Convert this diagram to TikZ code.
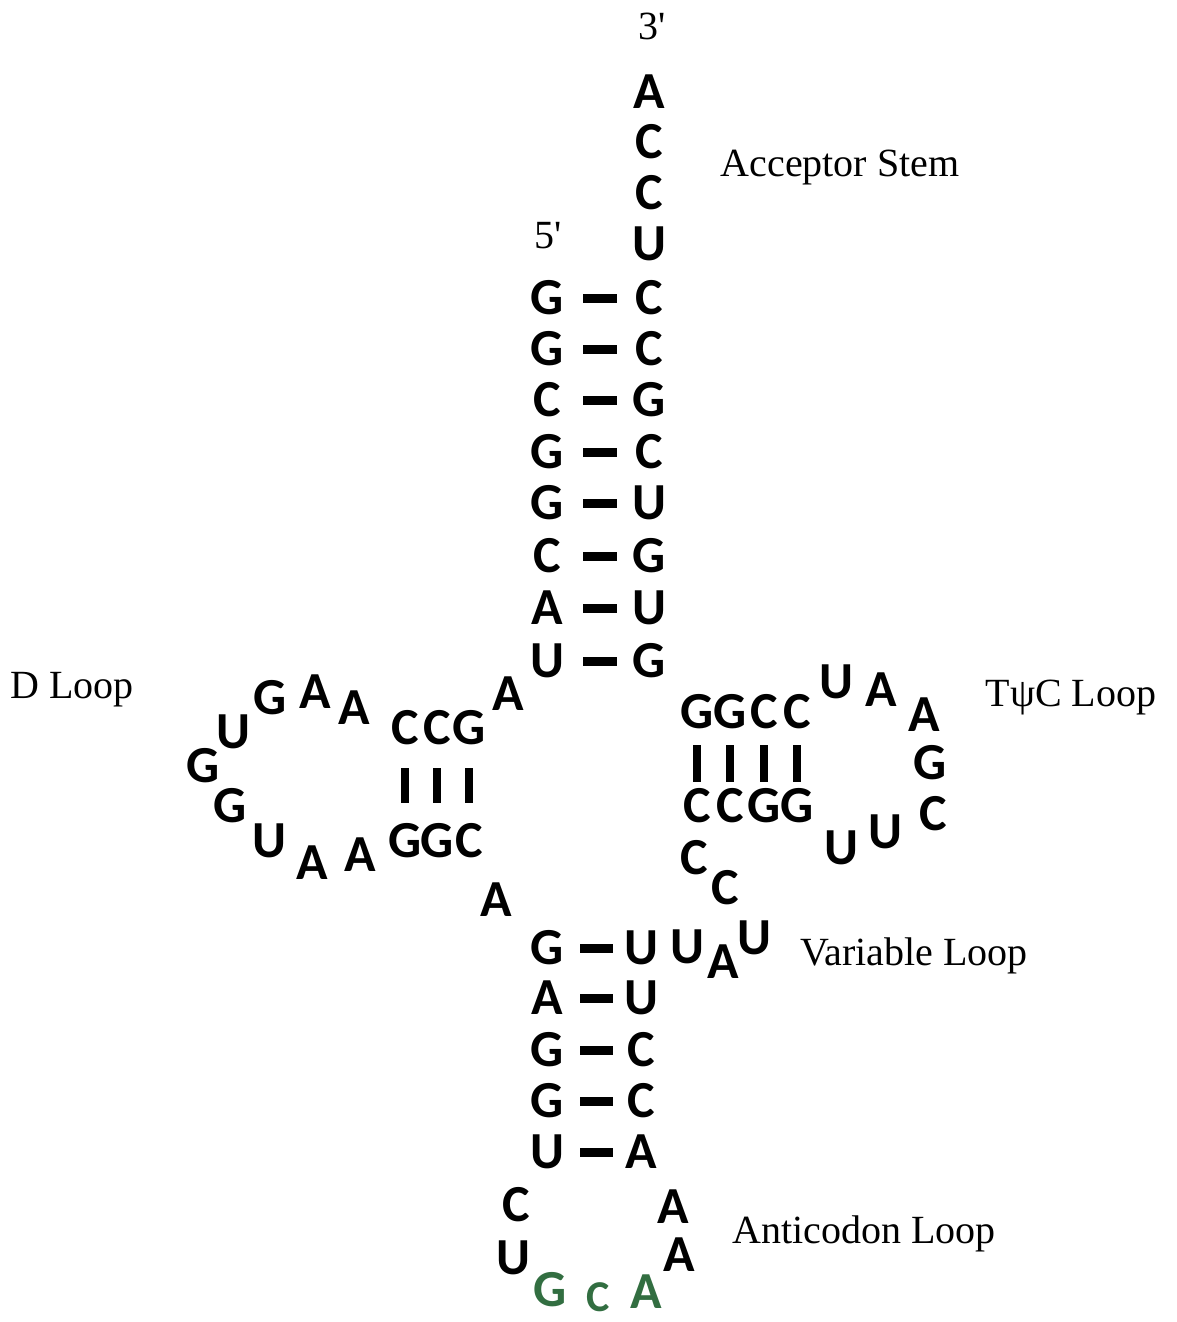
\documentclass[tikz,border=0pt]{standalone}
\usepackage{fontspec}
\setmainfont{Liberation Serif}
\newfontfamily\ntfam{Carlito}
\newcommand\ntfont{\ntfam\bfseries\fontsize{52}{52}\selectfont}
\newcommand\ntsmall{\ntfam\bfseries\fontsize{44}{44}\selectfont}
\newcommand\lblfont{\rmfamily\fontsize{40}{40}\selectfont}
\definecolor{acgreen}{RGB}{50,110,65}
\tikzset{
  nt/.style={font=\ntfont, inner sep=0pt, anchor=center, text=black},
  gn/.style={nt, text=acgreen},
  lbl/.style={font=\lblfont, inner sep=0pt, anchor=base},
  bpa/.style={line width=9pt, shorten <=36pt, shorten >=32pt},
  bpb/.style={line width=9pt, shorten <=33pt, shorten >=28pt},
  bpd/.style={line width=8.5pt, shorten <=40pt, shorten >=38pt},
  bpt/.style={line width=8.5pt, shorten <=33pt, shorten >=24pt},
}
\begin{document}
\begin{tikzpicture}[x=1pt,y=-1pt]
\useasboundingbox (0,0) rectangle (1177,1322);
% labels
\node[lbl] (l3) at (652,40) {3\textquotesingle};
\node[lbl] (l5) at (548,248) {5\textquotesingle};
\node[lbl] (lacc) at (840,176) {Acceptor Stem};
\node[lbl] (ld) at (72,698) {D Loop};
\node[lbl] (lt) at (1071,706) {T\char"03C8 C Loop};
\node[lbl] (lv) at (914,965) {Variable Loop};
\node[lbl] (lac) at (864,1243) {Anticodon Loop};
% acceptor tail
\node[nt] (t1) at (649,92) {A};
\node[nt] (t2) at (649,142) {C};
\node[nt] (t3) at (649,193) {C};
\node[nt] (t4) at (649,244) {U};
% acceptor stem
\foreach \i/\y/\l/\r in {1/298/G/C,2/349/G/C,3/400/C/G,4/452/G/C,5/503/G/U,6/556/C/G,7/608/A/U,8/661/U/G}{
  \node[nt] (al\i) at (547,\y) {\l};
  \node[nt] (ar\i) at (649,\y) {\r};
  \draw[bpa] (al\i.center) -- (ar\i.center);
}
% D arm
\node[nt] (dA) at (508,694) {A};
\node[nt] (dc1) at (405,728) {C};
\node[nt] (dc2) at (437,728) {C};
\node[nt] (dc3) at (469,728) {G};
\node[nt] (dg1) at (405,841) {G};
\node[nt] (dg2) at (437,841) {G};
\node[nt] (dg3) at (469,841) {C};
\draw[bpd] (dc1.center) -- (dg1.center);
\draw[bpd] (dc2.center) -- (dg2.center);
\draw[bpd] (dc3.center) -- (dg3.center);
% D loop
\node[nt] (dl1) at (360,855) {A};
\node[nt] (dl2) at (312,863) {A};
\node[nt] (dl3) at (269,841) {U};
\node[nt] (dl4) at (230,806) {G};
\node[nt] (dl5) at (203,766) {G};
\node[nt] (dl6) at (233,732) {U};
\node[nt] (dl7) at (270,698) {G};
\node[nt] (dl8) at (315,692) {A};
\node[nt] (dl9) at (354,708) {A};
\node[nt] (dA2) at (496,900) {A};
% anticodon stem
\foreach \i/\y/\l/\r in {1/948/G/U,2/998/A/U,3/1050/G/C,4/1101/G/C,5/1152/U/A}{
  \node[nt] (bl\i) at (547,\y) {\l};
  \node[nt] (br\i) at (641,\y) {\r};
  \draw[bpb] (bl\i.center) -- (br\i.center);
}
% anticodon loop
\node[nt] (ac1) at (516,1205) {C};
\node[nt] (ac2) at (513,1258) {U};
\node[gn] (ac3) at (550,1290) {G};
\node[gn,font=\ntsmall] (ac4) at (598,1297) {C};
\node[gn] (ac5) at (646,1292) {A};
\node[nt] (ac6) at (679,1255) {A};
\node[nt] (ac7) at (673,1207) {A};
% variable loop
\node[nt] (v1) at (687,947) {U};
\node[nt] (v2) at (723,962) {A};
\node[nt] (v3) at (754,938) {U};
\node[nt] (v4) at (725,888) {C};
\node[nt] (v5) at (694,858) {C};
% T arm
\foreach \i/\x/\u/\d in {1/697/G/C,2/730/G/C,3/764/C/G,4/797/C/G}{
  \node[nt] (tu\i) at (\x,712) {\u};
  \node[nt] (td\i) at (\x,806) {\d};
  \draw[bpt] (tu\i.center) -- (td\i.center);
}
% T loop
\node[nt] (tl1) at (836,682) {U};
\node[nt] (tl2) at (881,690) {A};
\node[nt] (tl3) at (924,715) {A};
\node[nt] (tl4) at (930,763) {G};
\node[nt] (tl5) at (933,814) {C};
\node[nt] (tl6) at (885,832) {U};
\node[nt] (tl7) at (841,848) {U};
\end{tikzpicture}
\end{document}
